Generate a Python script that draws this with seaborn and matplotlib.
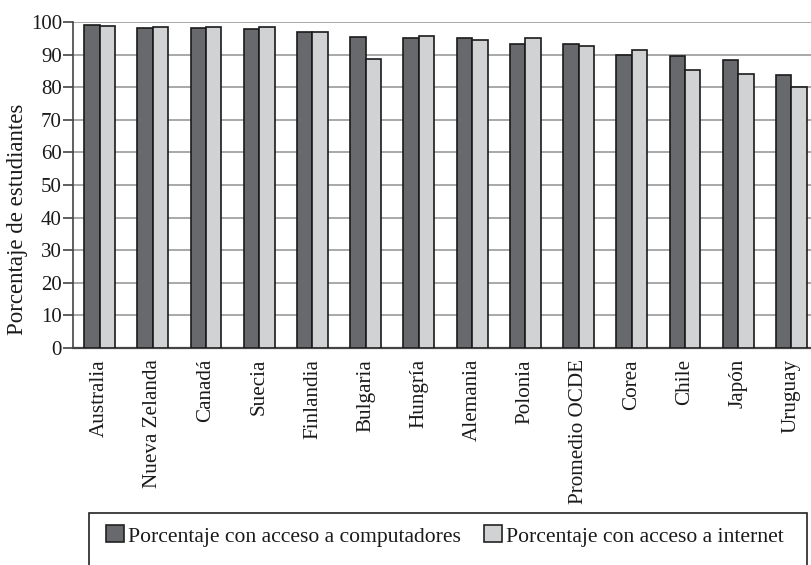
import matplotlib
matplotlib.use("Agg")
import matplotlib.pyplot as plt
from matplotlib.patches import Patch, Rectangle
import pandas as pd
import seaborn as sns

paises = ["Australia", "Nueva Zelanda", "Canadá", "Suecia", "Finlandia",
          "Bulgaria", "Hungría", "Alemania", "Polonia", "Promedio OCDE",
          "Corea", "Chile", "Japón", "Uruguay"]
computadores = [99.1, 98.2, 98.2, 98.0, 96.9, 95.4, 95.1, 95.0, 93.4, 93.1,
                89.9, 89.5, 88.3, 83.6]
internet = [98.9, 98.5, 98.5, 98.6, 96.8, 88.7, 95.6, 94.4, 95.1, 92.6,
            91.3, 85.3, 84.0, 80.2]
series = ["Porcentaje con acceso a computadores",
          "Porcentaje con acceso a internet"]
colores = ["#68696d", "#d1d2d4"]
y_ticks = list(range(0, 101, 10))

df = pd.DataFrame({
    "pais": paises * 2,
    "valor": computadores + internet,
    "serie": [series[0]] * len(paises) + [series[1]] * len(paises),
})

sns.set_theme(style="white")
plt.rcParams["font.family"] = ["Liberation Serif", "DejaVu Serif"]

W, H = 812, 565
fig = plt.figure(figsize=(W / 100, H / 100), dpi=100)
ax = fig.add_axes([73 / W, 1 - 348 / H, (818 - 73) / W, (348 - 22) / H])

sns.barplot(data=df, x="pais", y="valor", hue="serie", palette=colores,
            width=0.58, gap=0, edgecolor="#1a1a1a", linewidth=1.2,
            saturation=1, legend=False, ax=ax, zorder=3)

ax.set_xlim(-0.5, 13.5)
ax.set_ylim(0, 100)
ax.set_yticks(y_ticks)
ax.yaxis.grid(True, color="#a8a8a8", linewidth=1.4, zorder=0)
ax.set_axisbelow(True)
for s in ["top", "right"]:
    ax.spines[s].set_visible(False)
ax.spines["left"].set_color("#444444")
ax.spines["left"].set_linewidth(1.2)
ax.spines["bottom"].set_color("#444444")
ax.spines["bottom"].set_linewidth(1.6)

ax.tick_params(axis="y", which="both", left=True, length=7, width=1.2,
               color="#444444", labelsize=15, pad=1, labelcolor="#1a1a1a")
ax.tick_params(axis="x", length=0, pad=8, labelsize=15.2, labelcolor="#1a1a1a")
plt.setp(ax.get_xticklabels(), rotation=90, ha="center", va="top")

ax.set_xlabel("")
ax.set_ylabel("Porcentaje de estudiantes", fontsize=16.5, color="#1a1a1a")
ax.yaxis.set_label_coords(18 / W, 1 - 219 / H, transform=fig.transFigure)
ax.yaxis.label.set_va("center")

handles = [Patch(facecolor=c, edgecolor="#222222", linewidth=1.2) for c in colores]
fig.legend(handles, series, loc="center left",
           bbox_to_anchor=(106 / W, 1 - 536 / H), ncol=2, frameon=False,
           fontsize=15.6, handlelength=0.83, handleheight=0.83,
           handletextpad=0.2, columnspacing=1.05, borderpad=0,
           borderaxespad=0, labelcolor="#1a1a1a")
fig.patches.append(Rectangle((89 / W, -0.05), (807 - 89) / W, 1 - 513 / H + 0.05,
                             transform=fig.transFigure, fill=False,
                             edgecolor="#222222", linewidth=1.2))

fig.savefig("out.png", dpi=100)
